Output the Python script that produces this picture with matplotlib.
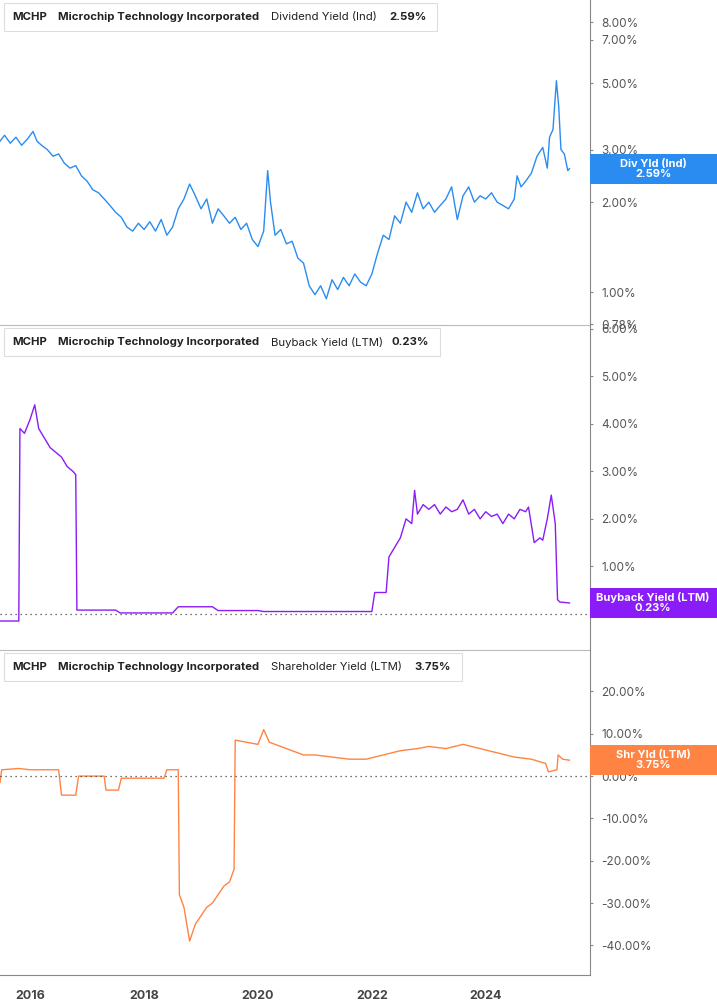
import numpy as np
import matplotlib.pyplot as plt
from matplotlib.patches import Rectangle
from matplotlib.ticker import FixedLocator, FuncFormatter, NullLocator

# ---- data ----
div_years = [2015.47, 2015.55, 2015.65, 2015.75, 2015.85, 2015.95, 2016.05, 2016.12, 2016.2, 2016.3,
             2016.4, 2016.5, 2016.6, 2016.7, 2016.8, 2016.9, 2017.0, 2017.1, 2017.2, 2017.3,
             2017.4, 2017.5, 2017.6, 2017.7, 2017.8, 2017.9, 2018.0, 2018.1, 2018.2, 2018.3,
             2018.4, 2018.5, 2018.6, 2018.7, 2018.8, 2018.9, 2019.0, 2019.1, 2019.2, 2019.3,
             2019.4, 2019.5, 2019.6, 2019.7, 2019.8, 2019.9, 2020.0, 2020.1, 2020.17, 2020.22,
             2020.3, 2020.4, 2020.5, 2020.6, 2020.7, 2020.8, 2020.9, 2021.0, 2021.1, 2021.2,
             2021.3, 2021.4, 2021.5, 2021.6, 2021.7, 2021.8, 2021.9, 2022.0, 2022.1, 2022.2,
             2022.3, 2022.4, 2022.5, 2022.6, 2022.7, 2022.8, 2022.9, 2023.0, 2023.1, 2023.2,
             2023.3, 2023.4, 2023.5, 2023.6, 2023.7, 2023.8, 2023.9, 2024.0, 2024.1, 2024.2,
             2024.3, 2024.4, 2024.5, 2024.55, 2024.62, 2024.7, 2024.8, 2024.9, 2025.0, 2025.08,
             2025.12, 2025.18, 2025.24, 2025.28, 2025.32, 2025.38, 2025.44, 2025.47]
div_yield = [3.2, 3.35, 3.15, 3.3, 3.1, 3.25, 3.45, 3.2, 3.1, 3.0,
             2.85, 2.9, 2.7, 2.6, 2.65, 2.45, 2.35, 2.2, 2.15, 2.05,
             1.95, 1.85, 1.78, 1.65, 1.6, 1.7, 1.62, 1.72, 1.6, 1.75,
             1.55, 1.65, 1.9, 2.05, 2.3, 2.1, 1.9, 2.05, 1.7, 1.9,
             1.8, 1.7, 1.78, 1.62, 1.7, 1.5, 1.42, 1.6, 2.55, 2.0,
             1.55, 1.62, 1.45, 1.48, 1.3, 1.25, 1.05, 0.98, 1.05, 0.95,
             1.1, 1.02, 1.12, 1.05, 1.15, 1.08, 1.05, 1.15, 1.35, 1.55,
             1.5, 1.8, 1.7, 2.0, 1.85, 2.15, 1.9, 2.0, 1.85, 1.95,
             2.05, 2.25, 1.75, 2.1, 2.25, 2.0, 2.1, 2.05, 2.15, 2.0,
             1.95, 1.9, 2.05, 2.45, 2.25, 2.35, 2.5, 2.85, 3.05, 2.6,
             3.3, 3.5, 5.1, 4.2, 3.0, 2.9, 2.55, 2.59]

bb_years = [2015.47, 2015.8, 2015.82, 2015.9, 2016.0, 2016.08, 2016.15, 2016.25, 2016.35, 2016.45,
            2016.55, 2016.65, 2016.75, 2016.8, 2016.82, 2017.5, 2017.58, 2018.5, 2018.6, 2019.2,
            2019.3, 2020.0, 2020.1, 2022.0, 2022.05, 2022.25, 2022.3, 2022.4, 2022.5, 2022.6,
            2022.7, 2022.75, 2022.8, 2022.9, 2023.0, 2023.1, 2023.2, 2023.3, 2023.4, 2023.5,
            2023.6, 2023.7, 2023.8, 2023.9, 2024.0, 2024.1, 2024.2, 2024.3, 2024.4, 2024.5,
            2024.6, 2024.7, 2024.75, 2024.85, 2024.95, 2025.0, 2025.08, 2025.15, 2025.22, 2025.26,
            2025.3, 2025.47]
bb_yield = [-0.15, -0.15, 3.9, 3.8, 4.1, 4.4, 3.9, 3.7, 3.5, 3.4,
            3.3, 3.1, 3.0, 2.93, 0.08, 0.08, 0.02, 0.02, 0.15, 0.15,
            0.07, 0.07, 0.05, 0.05, 0.45, 0.45, 1.2, 1.4, 1.6, 2.0,
            1.9, 2.6, 2.1, 2.3, 2.2, 2.3, 2.1, 2.25, 2.15, 2.2,
            2.4, 2.1, 2.2, 2.0, 2.15, 2.05, 2.1, 1.9, 2.1, 2.0,
            2.2, 2.15, 2.25, 1.5, 1.6, 1.55, 2.0, 2.5, 1.9, 0.3,
            0.25, 0.23]

sh_years = [2015.47, 2015.5, 2015.8, 2016.0, 2016.5, 2016.55, 2016.8, 2016.85, 2017.3, 2017.33,
            2017.55, 2017.6, 2018.35, 2018.4, 2018.6, 2018.62, 2018.7, 2018.8, 2018.9, 2019.0,
            2019.1, 2019.2, 2019.3, 2019.4, 2019.5, 2019.58, 2019.6, 2019.8, 2020.0, 2020.1,
            2020.2, 2020.4, 2020.6, 2020.8, 2021.0, 2021.3, 2021.6, 2021.9, 2022.2, 2022.5,
            2022.8, 2023.0, 2023.3, 2023.6, 2023.9, 2024.2, 2024.5, 2024.8, 2025.05, 2025.1,
            2025.25, 2025.27, 2025.35, 2025.47]
sh_yield = [-1.5, 1.5, 1.8, 1.5, 1.5, -4.5, -4.5, 0.0, 0.0, -3.3,
            -3.3, -0.5, -0.5, 1.5, 1.5, -28.0, -31.0, -39.0, -35.0, -33.0,
            -31.0, -30.0, -28.0, -26.0, -25.0, -22.0, 8.5, 8.0, 7.5, 11.0,
            8.0, 7.0, 6.0, 5.0, 5.0, 4.5, 4.0, 4.0, 5.0, 6.0,
            6.5, 7.0, 6.5, 7.5, 6.5, 5.5, 4.5, 4.0, 3.0, 1.0,
            1.5, 5.0, 4.0, 3.75]

div_ticks = [0.78, 1, 2, 3, 5, 7, 8]
bb_ticks = [0, 1, 2, 3, 4, 5, 6]
sh_ticks = [-40, -30, -20, -10, 0, 10, 20]
year_ticks = [2016, 2018, 2020, 2022, 2024]

BLUE = "#2a8cf0"
PURPLE = "#8a1cf7"
ORANGE = "#ff8444"
TXT = "#555555"

W, H = 717, 1005
fig = plt.figure(figsize=(W / 100, H / 100), dpi=100)
plt.rcParams["font.family"] = "Inter"

def px_ax(top, bottom):
    return fig.add_axes([0, 1 - bottom / H, 590 / W, (bottom - top) / H])

ax1 = px_ax(0, 325)
ax2 = px_ax(325, 650)
ax3 = px_ax(650, 975)

ax1.plot(div_years, div_yield, color=BLUE, lw=1)
ax1.set_yscale("log")
ax1.set_ylim(0.776, 9.5)
ax1.yaxis.set_major_locator(FixedLocator(div_ticks))
ax1.yaxis.set_minor_locator(NullLocator())

ax2.plot(bb_years, bb_yield, color=PURPLE, lw=1)
ax2.set_ylim(-0.76, 6.08)
ax2.yaxis.set_major_locator(FixedLocator(bb_ticks))

ax3.plot(sh_years, sh_yield, color=ORANGE, lw=1)
ax3.set_ylim(-47, 29.8)
ax3.yaxis.set_major_locator(FixedLocator(sh_ticks))

for ax in (ax2, ax3):
    ax.axhline(0, color="#444444", lw=0.9, ls=(0, (1, 3)))

for ax in (ax1, ax2, ax3):
    ax.set_xlim(2015.47, 2025.83)
    ax.set_xticks(year_ticks)
    ax.yaxis.tick_right()
    ax.yaxis.set_major_formatter(FuncFormatter(lambda v, p: f"{v:.2f}%"))
    ax.tick_params(axis="y", length=2, color="#888888", labelcolor=TXT, labelsize=8.5, pad=6)
    for s in ("left", "top"):
        ax.spines[s].set_visible(False)
    ax.spines["right"].set_color("#888888")
    ax.spines["bottom"].set_color("#bbbbbb")
    ax.patch.set_alpha(0)

for ax in (ax1, ax2):
    ax.tick_params(axis="x", length=0, labelbottom=False)
ax3.spines["bottom"].set_visible(False)
ax3.tick_params(axis="x", length=0, labelsize=9, labelcolor="#444444", pad=11)
for t in ax3.get_xticklabels():
    t.set_fontweight("bold")
fig.add_artist(plt.Line2D([0, 590 / W], [1 - 975 / H] * 2, color="#888888", lw=0.8))

# header boxes
headers = [(0, "Dividend Yield (Ind)", "2.59%", 389, 437),
           (325, "Buyback Yield (LTM)", "0.23%", 392, 440),
           (650, "Shareholder Yield (LTM)", "3.75%", 414, 462)]
for top, name, val, vx, right in headers:
    fig.patches.append(Rectangle((4 / W, 1 - (top + 31) / H), (right - 4) / W, 28 / H,
                                 transform=fig.transFigure, fc="white", ec="#dddddd", lw=0.8))
    yy = 1 - (top + 17) / H
    kw = dict(fontsize=8.2, color="#222222", va="center")
    fig.text(12 / W, yy, "MCHP", fontweight="bold", **kw)
    fig.text(58 / W, yy, "Microchip Technology Incorporated", fontweight="bold", **kw)
    fig.text(271 / W, yy, name, **kw)
    fig.text(vx / W, yy, val, fontweight="bold", **kw)

# right value boxes
labels = [(ax1, div_yield[-1], "Div Yld (Ind)", BLUE),
          (ax2, bb_yield[-1], "Buyback Yield (LTM)", PURPLE),
          (ax3, sh_yield[-1], "Shr Yld (LTM)", ORANGE)]
for ax, v, name, col in labels:
    _, ypix = ax.transData.transform((2020, v))
    yc = ypix / fig.dpi / fig.get_figheight()
    fig.patches.append(Rectangle((590 / W, yc - 15 / H), 127 / W, 30 / H,
                                 transform=fig.transFigure, fc=col, ec="none", zorder=5))
    fig.text(653 / W, yc, f"{name}\n{v:.2f}%", fontsize=8, fontweight="bold", color="white",
             ha="center", va="center", linespacing=1.0, zorder=6)

fig.savefig("out.png", dpi=100)
